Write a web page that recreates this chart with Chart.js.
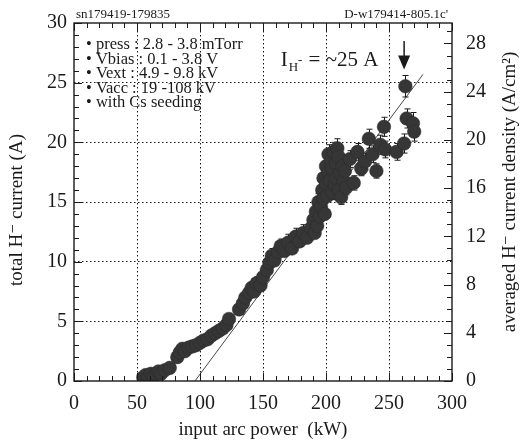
<!DOCTYPE html>
<html>
<head>
<meta charset="utf-8">
<script src="https://cdn.jsdelivr.net/npm/chart.js@4.4.1/dist/chart.umd.min.js"></script>
<style>
  html, body { margin: 0; padding: 0; background: #fff; }
</style>
</head>
<body>
<canvas id="c" width="530" height="448"></canvas>
<script>
// ---- data ---------------------------------------------------------------
const powerKW = [
  55, 57, 59, 61, 63, 65, 67, 69, 72, 76,
  82, 84, 86, 88, 91, 94, 97, 100, 103, 106, 109, 112, 115, 118, 121, 123,
  131, 134, 136, 139, 141, 143, 145, 148, 150,
  153, 155, 157, 159, 162, 164, 167, 170, 173, 176, 179, 182, 185,
  188, 190, 191, 192, 193, 194, 195, 196, 197, 198, 198, 199, 200, 200, 201, 202,
  202, 203, 204, 205, 205, 206, 207, 208, 208, 209, 210, 210, 211, 212, 213, 214, 215, 216,
  219, 222, 225, 228, 231, 234, 237, 240, 243, 246, 247,
  256, 262, 264, 269, 270, 263
];
const currentA = [
  0.3, 0.5, 0.3, 0.6, 0.4, 0.6, 0.8, 0.6, 0.9, 1.1,
  2.0, 2.4, 2.7, 2.5, 2.8, 2.9, 3.0, 3.2, 3.4, 3.5, 3.8, 4.0, 4.2, 4.4, 4.7, 5.2,
  6.0, 6.5, 7.0, 7.4, 7.8, 7.5, 8.2, 8.0, 8.7,
  9.3, 9.9, 10.5, 10.1, 10.8, 11.3, 10.9, 11.6, 11.1, 12.1, 11.7, 12.4, 12.0,
  12.8, 13.5, 12.4, 14.2, 13.0, 15.0, 13.8, 14.6, 16.0, 15.3, 17.0, 14.0, 16.5, 18.0, 15.5, 17.5,
  19.0, 16.8, 18.5, 15.8, 17.8, 19.2, 16.4, 18.2, 17.0, 19.5, 16.0, 18.8, 17.4, 15.4, 18.0, 16.8, 17.6, 16.2,
  18.6, 16.6, 19.2, 17.8, 18.4, 20.3, 19.0, 17.6, 19.8, 21.3, 19.4,
  19.2, 19.9, 22.0, 21.6, 20.9, 24.7
];
// half length of the error bars (A), 0 = no bar visible
const errA = [
  0, 0, 0, 0, 0, 0, 0, 0, 0, 0,
  0, 0, 0, 0, 0, 0, 0, 0, 0, 0, 0, 0, 0, 0, 0.3, 0.3,
  0, 0, 0.4, 0, 0.4, 0, 0.5, 0, 0.5,
  0.5, 0.5, 0.6, 0, 0.6, 0.6, 0, 0.7, 0, 0.7, 0, 0.7, 0,
  0.6, 0.6, 0, 0.7, 0, 0.7, 0, 0.6, 0.8, 0, 0.8, 0, 0.7, 0.8, 0, 0.7,
  0.8, 0, 0.8, 0.6, 0, 0.8, 0.6, 0, 0.7, 0.8, 0.6, 0, 0.7, 0.6, 0.8, 0, 0.7, 0.6,
  0.7, 0.6, 0.7, 0.6, 0.7, 0.8, 0.7, 0.6, 0.8, 0.8, 0.7,
  0.7, 0.8, 0.8, 0.9, 0.8, 0.9
];

// guide line through the data
const fitKW = [96, 277];
const fitA = [0, 25.7];

const xTicks = [0, 50, 100, 150, 200, 250, 300];
const yTicks = [0, 5, 10, 15, 20, 25, 30];
const densityTicks = [0, 4, 8, 12, 16, 20, 24, 28];
const densityMax = 29.7;

const notes = [
  '• press : 2.8 - 3.8 mTorr',
  '• Vbias : 0.1 - 3.8 V',
  '• Vext : 4.9 - 9.8 kV',
  '• Vacc : 19 -108 kV',
  '• with Cs seeding'
];
const shotLabel = 'sn179419-179835';
const fileLabel = "D-w179414-805.1c'";
const arrowKW = 262;

// ---- look ------------------------------------------------------------------
const SERIF = '"Liberation Serif", "DejaVu Serif", serif';
const INK = '#1a1a1a';

const fixTicks = (list) => (scale) => {
  scale.ticks = list.map(v => ({ value: v }));
};

// inner grid only, dotted
const innerGrid = (max) => ({
  drawTicks: false,
  lineWidth: 1,
  color: (ctx) => (ctx.tick && ctx.tick.value > 0 && ctx.tick.value < max) ? INK : 'rgba(0,0,0,0)'
});

// frame, inward ticks, error bars, notes
const decor = {
  id: 'decor',
  beforeDatasetsDraw(chart) {
    const { ctx } = chart;
    const x = chart.scales.x, y = chart.scales.y;
    ctx.save();
    ctx.strokeStyle = INK;
    ctx.lineWidth = 1;
    powerKW.forEach((p, i) => {
      const e = errA[i];
      if (!e) return;
      const px = Math.round(x.getPixelForValue(p)) + 0.5;
      const top = y.getPixelForValue(currentA[i] + e);
      const bot = y.getPixelForValue(currentA[i] - e);
      ctx.beginPath();
      ctx.moveTo(px, top); ctx.lineTo(px, bot);
      ctx.moveTo(px - 3, top); ctx.lineTo(px + 3, top);
      ctx.moveTo(px - 3, bot); ctx.lineTo(px + 3, bot);
      ctx.stroke();
    });
    ctx.restore();
  },
  afterDraw(chart) {
    const { ctx, chartArea: a } = chart;
    const x = chart.scales.x, y = chart.scales.y, y2 = chart.scales.y2;
    ctx.save();
    ctx.strokeStyle = INK;
    ctx.lineWidth = 1.4;
    ctx.strokeRect(a.left, a.top, a.right - a.left, a.bottom - a.top);

    ctx.lineWidth = 1;
    ctx.beginPath();
    for (let v = 0; v <= 300; v += 10) {
      const px = Math.round(x.getPixelForValue(v)) + 0.5;
      const len = v % 50 === 0 ? 8 : 5;
      ctx.moveTo(px, a.bottom); ctx.lineTo(px, a.bottom - len);
      ctx.moveTo(px, a.top); ctx.lineTo(px, a.top + len);
    }
    for (let v = 0; v <= 30; v += 1) {
      const py = Math.round(y.getPixelForValue(v)) + 0.5;
      const len = v % 5 === 0 ? 8 : 5;
      ctx.moveTo(a.left, py); ctx.lineTo(a.left + len, py);
    }
    for (let v = 0; v <= 29; v += 1) {
      const py = Math.round(y2.getPixelForValue(v)) + 0.5;
      const len = v % 4 === 0 ? 8 : 5;
      ctx.moveTo(a.right, py); ctx.lineTo(a.right - len, py);
    }
    ctx.stroke();

    // labels above the frame
    ctx.fillStyle = INK;
    ctx.font = '13px ' + SERIF;
    ctx.textBaseline = 'alphabetic';
    ctx.textAlign = 'left';
    ctx.fillText(shotLabel, a.left + 2, a.top - 5);
    ctx.textAlign = 'right';
    ctx.fillText(fileLabel, a.right - 4, a.top - 5);

    // conditions box
    ctx.textAlign = 'left';
    ctx.font = '16.5px ' + SERIF;
    notes.forEach((t, i) => ctx.fillText(t, a.left + 12, a.top + 26 + i * 14.6));

    // I_H- = ~25 A
    let tx = x.getPixelForValue(164);
    const ty = y.getPixelForValue(26.4);
    ctx.font = '21px ' + SERIF;
    ctx.fillText('I', tx, ty);
    tx += ctx.measureText('I').width + 1;
    ctx.font = '13px ' + SERIF;
    ctx.fillText('H', tx, ty + 5);
    tx += ctx.measureText('H').width;
    ctx.fillText('-', tx, ty - 2);
    tx += ctx.measureText('-').width + 1;
    ctx.font = '21px ' + SERIF;
    ctx.fillText(' = ~25 A', tx, ty);

    // arrow to the best shot
    const ax = x.getPixelForValue(arrowKW);
    const aTop = y.getPixelForValue(28.5), aTip = y.getPixelForValue(26.1);
    ctx.lineWidth = 1.5;
    ctx.beginPath();
    ctx.moveTo(ax, aTop); ctx.lineTo(ax, aTip - 10);
    ctx.stroke();
    ctx.beginPath();
    ctx.moveTo(ax - 6, aTip - 14); ctx.lineTo(ax + 6, aTip - 14); ctx.lineTo(ax, aTip);
    ctx.closePath();
    ctx.fill();

    // side titles
    ctx.font = '19px ' + SERIF;
    ctx.textAlign = 'center';
    ctx.textBaseline = 'middle';
    ctx.save();
    ctx.translate(17, 210);
    ctx.rotate(-Math.PI / 2);
    ctx.fillText('total H⁻ current (A)', 0, 0);
    ctx.restore();
    ctx.save();
    ctx.translate(510, 192);
    ctx.rotate(-Math.PI / 2);
    ctx.fillText('averaged H⁻ current density (A/cm²)', 0, 0);
    ctx.restore();
    ctx.restore();
  }
};

new Chart(document.getElementById('c'), {
  type: 'scatter',
  data: {
    datasets: [
      {
        label: 'fit',
        type: 'line',
        data: fitKW.map((p, i) => ({ x: p, y: fitA[i] })),
        borderColor: INK,
        borderWidth: 0.8,
        pointRadius: 0,
        fill: false,
        order: 2
      },
      {
        label: 'H- current',
        data: powerKW.map((p, i) => ({ x: p, y: currentA[i] })),
        pointRadius: 6.8,
        pointBackgroundColor: '#363636',
        pointBorderColor: '#2a2a2a',
        pointBorderWidth: 0.5,
        order: 1
      }
    ]
  },
  options: {
    responsive: false,
    animation: false,
    layout: { padding: { top: 23, left: 0, right: 0, bottom: 0 } },
    plugins: { legend: { display: false }, tooltip: { enabled: false } },
    scales: {
      x: {
        type: 'linear', min: 0, max: 300,
        afterBuildTicks: fixTicks(xTicks),
        afterFit: (s) => { s.height = 67; },
        grid: innerGrid(300),
        border: { display: false, dash: [1.5, 2.5] },
        ticks: { color: INK, padding: 11, font: { family: SERIF, size: 20 } },
        title: {
          display: true, text: 'input arc power  (kW)', color: INK,
          font: { family: SERIF, size: 19 }, padding: { top: 0, bottom: 7 }
        }
      },
      y: {
        type: 'linear', min: 0, max: 30, position: 'left',
        afterBuildTicks: fixTicks(yTicks),
        afterFit: (s) => { s.width = 74; },
        grid: innerGrid(30),
        border: { display: false, dash: [1.5, 2.5] },
        ticks: { color: INK, padding: 7, font: { family: SERIF, size: 20 } }
      },
      y2: {
        type: 'linear', min: 0, max: densityMax, position: 'right',
        afterBuildTicks: fixTicks(densityTicks),
        afterFit: (s) => { s.width = 78; },
        grid: { display: false },
        border: { display: false },
        ticks: { color: INK, padding: 6, font: { family: SERIF, size: 20 } }
      }
    }
  },
  plugins: [decor]
});
</script>
</body>
</html>
